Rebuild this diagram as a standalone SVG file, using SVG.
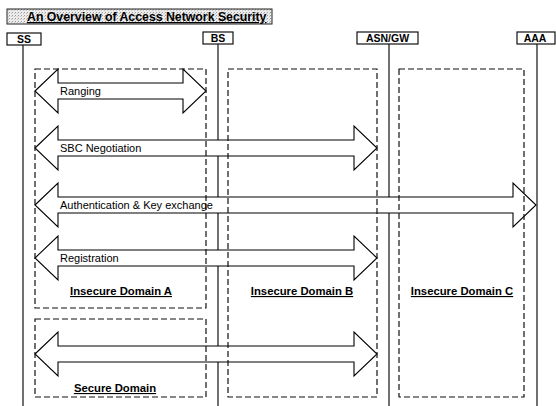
<svg xmlns="http://www.w3.org/2000/svg" width="556" height="406" viewBox="0 0 556 406">
<defs>
<pattern id="stip" width="3" height="3" patternUnits="userSpaceOnUse">
<rect width="3" height="3" fill="#ececec"/>
<rect x="0" y="0" width="1" height="1" fill="#9a9a9a"/>
<rect x="2" y="1" width="1" height="1" fill="#c0c0c0"/>
</pattern>
</defs>
<style>
.life{stroke:#111;stroke-width:1.2;fill:none}
.box{fill:#fff;stroke:#111;stroke-width:1.2}
.lbl{font-family:"Liberation Sans",Arial,sans-serif;font-weight:bold;font-size:10.5px;fill:#000}
.arr{fill:#fff;stroke:#000;stroke-width:1.1;stroke-linejoin:miter}
.atx{font-family:"Liberation Sans",Arial,sans-serif;font-size:11px;fill:#000}
.dom{fill:none;stroke:#111;stroke-width:1.2;stroke-dasharray:6 3}
.dtx{font-family:"Liberation Sans",Arial,sans-serif;font-weight:bold;font-size:11.3px;fill:#000;text-decoration:underline;text-anchor:middle}
</style>
<g id="title">
<rect x="7" y="9" width="265" height="15" fill="url(#stip)" stroke="#222" stroke-width="1"/>
<text x="27" y="21" style="font-family:'Liberation Sans',Arial,sans-serif;font-weight:bold;font-size:12.3px;text-decoration:underline">An Overview of Access Network Security</text>
</g>
<g id="lifelines">
<line class="life" x1="23" y1="45" x2="23" y2="406"/>
<line class="life" x1="218" y1="44" x2="218" y2="406"/>
<line class="life" x1="389" y1="44" x2="389" y2="406"/>
<line class="life" x1="537" y1="44" x2="537" y2="406"/>
</g>
<g id="SS"><rect class="box" x="7" y="33" width="34" height="12"/><text class="lbl" x="24" y="43" text-anchor="middle">SS</text></g>
<g id="BS"><rect class="box" x="203" y="32" width="30" height="12"/><text class="lbl" x="218" y="42" text-anchor="middle">BS</text></g>
<g id="ASNGW"><rect class="box" x="357" y="32" width="61" height="12"/><text class="lbl" x="387.5" y="42" text-anchor="middle">ASN/GW</text></g>
<g id="AAA"><rect class="box" x="517" y="32" width="38" height="12"/><text class="lbl" x="535" y="42" text-anchor="middle">AAA</text></g>
<g id="connectors">
<g id="ranging"><path class="arr" d="M35,91 L58,69 L58,83 L183,83 L183,69 L206,91 L183,113 L183,99 L58,99 L58,113 Z"/><text class="atx" x="60" y="95">Ranging</text></g>
<g id="sbc"><path class="arr" d="M35,148 L58,126 L58,140 L354,140 L354,126 L377,148 L354,170 L354,156 L58,156 L58,170 Z"/><text class="atx" x="60" y="152">SBC Negotiation</text></g>
<g id="auth"><path class="arr" d="M35,205 L58,183 L58,197 L513,197 L513,183 L536,205 L513,227 L513,213 L58,213 L58,227 Z"/><text class="atx" x="60" y="209">Authentication &amp; Key exchange</text></g>
<g id="registration"><path class="arr" d="M35,258 L58,236 L58,250 L354,250 L354,236 L377,258 L354,280 L354,266 L58,266 L58,280 Z"/><text class="atx" x="60" y="262">Registration</text></g>
<g id="secure"><path class="arr" d="M35,354 L58,332 L58,346 L354,346 L354,332 L377,354 L354,376 L354,362 L58,362 L58,376 Z"/></g>
</g>
<g id="domainA"><rect class="dom" x="35" y="69" width="171" height="239"/><text class="dtx" x="121" y="295">Insecure Domain A</text></g>
<g id="secureDomain"><rect class="dom" x="35" y="319" width="171" height="78"/><text class="dtx" x="115" y="392">Secure Domain</text></g>
<g id="domainB"><rect class="dom" x="228" y="69" width="149" height="328"/><text class="dtx" x="302" y="295">Insecure Domain B</text></g>
<g id="domainC"><rect class="dom" x="399" y="69" width="125" height="328"/><text class="dtx" x="462" y="295">Insecure Domain C</text></g>
</svg>
